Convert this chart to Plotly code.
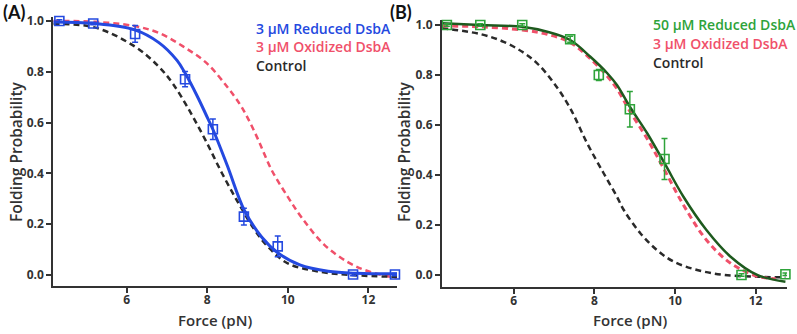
import plotly.graph_objects as go

# ---------------- data ----------------
# Panel A: 3 uM reduced DsbA (measured points)
a_force = [4.33, 5.17, 6.21, 7.45, 8.14, 8.91, 9.75, 11.62, 12.66]
a_prob = [1.0, 0.99, 0.949, 0.771, 0.574, 0.23, 0.113, 0.002, 0.002]
a_err = [0.005, 0.005, 0.033, 0.03, 0.04, 0.033, 0.041, 0.005, 0.005]

# Panel A fitted curves
a_blue_x = [4.18, 5.2, 6.2, 6.8, 7.25, 7.45, 7.75, 7.96, 8.15, 8.5, 8.92, 9.35, 9.75, 10.3, 11.0, 11.7, 12.71]
a_blue_y = [0.996, 0.99, 0.965, 0.915, 0.845, 0.795, 0.705, 0.635, 0.57, 0.43, 0.255, 0.15, 0.088, 0.04, 0.015, 0.007, 0.005]
a_red_x = [4.18, 5.2, 6.2, 6.8, 7.4, 7.98, 8.5, 8.8, 9.0, 9.27, 9.6, 10.0, 10.35, 10.9, 11.5, 12.0, 12.71]
a_red_y = [1.0, 0.997, 0.98, 0.953, 0.90, 0.835, 0.74, 0.675, 0.62, 0.531, 0.413, 0.308, 0.225, 0.12, 0.05, 0.015, -0.012]
a_black_x = [4.18, 5.2, 6.2, 6.8, 7.14, 7.55, 7.96, 8.37, 8.78, 9.18, 9.51, 10.0, 10.8, 11.6, 12.71]
a_black_y = [0.988, 0.975, 0.90, 0.82, 0.755, 0.65, 0.53, 0.40, 0.282, 0.177, 0.111, 0.046, 0.013, 0.0, -0.007]

# Panel B: 50 uM reduced DsbA (measured points)
b_force = [4.34, 5.17, 6.21, 7.40, 8.11, 8.88, 9.74, 11.65, 12.74]
b_prob = [1.0, 1.0, 1.0, 0.943, 0.80, 0.663, 0.464, 0.0, 0.003]
b_err = [0.005, 0.005, 0.005, 0.012, 0.022, 0.071, 0.082, 0.005, 0.005]

# Panel B fitted curves
b_green_x = [4.22, 5.17, 6.21, 6.83, 7.40, 7.90, 8.32, 8.56, 8.88, 9.31, 9.74, 10.21, 10.78, 11.38, 12.04, 12.74]
b_green_y = [1.007, 1.0, 0.993, 0.973, 0.94, 0.873, 0.807, 0.76, 0.673, 0.567, 0.447, 0.313, 0.18, 0.073, 0.0, -0.027]
b_red_x = [4.22, 5.17, 6.21, 6.83, 7.40, 7.90, 8.32, 8.56, 8.88, 9.31, 9.74, 10.21, 10.78, 11.38, 12.04, 12.5]
b_red_y = [0.996, 0.993, 0.98, 0.963, 0.93, 0.865, 0.795, 0.745, 0.655, 0.545, 0.42, 0.28, 0.14, 0.047, -0.005, -0.015]
b_black_x = [4.22, 5.17, 5.75, 6.21, 6.58, 7.0, 7.40, 7.82, 8.23, 8.56, 8.73, 9.14, 9.55, 9.97, 10.55, 11.21, 12.04, 12.74]
b_black_y = [0.987, 0.964, 0.933, 0.893, 0.847, 0.767, 0.667, 0.527, 0.407, 0.313, 0.26, 0.167, 0.10, 0.053, 0.02, 0.0, -0.007, -0.01]

x_tickvals = [6, 8, 10, 12]
y_tickvals = [0.0, 0.2, 0.4, 0.6, 0.8, 1.0]
y_ticktext = ["0.0", "0.2", "0.4", "0.6", "0.8", "1.0"]

legend_a = ["3 µM Reduced DsbA", "3 µM Oxidized DsbA", "Control"]
legend_b = ["50 µM Reduced DsbA", "3 µM Oxidized DsbA", "Control"]

# ---------------- style ----------------
BLUE = "#2449E0"
RED = "#F0506A"
BLACK = "#2a2a2a"
GREEN_PT = "#2EA33A"
GREEN_LN = "#1E5A1E"
AXIS = "#333333"
FONT = "Open Sans"
DASH = "6px,4px"

fig = go.Figure()

# Panel A curves
fig.add_trace(go.Scatter(x=a_red_x, y=a_red_y, mode="lines", line=dict(color=RED, width=2.5, dash=DASH, shape="spline"),
                         xaxis="x", yaxis="y", cliponaxis=False))
fig.add_trace(go.Scatter(x=a_black_x, y=a_black_y, mode="lines", line=dict(color=BLACK, width=2.5, dash=DASH, shape="spline"),
                         xaxis="x", yaxis="y", cliponaxis=False))
fig.add_trace(go.Scatter(x=a_blue_x, y=a_blue_y, mode="lines", line=dict(color=BLUE, width=3, shape="spline"),
                         xaxis="x", yaxis="y", cliponaxis=False))
fig.add_trace(go.Scatter(x=a_force, y=a_prob, mode="markers",
                         marker=dict(symbol="square-open", size=9, color=BLUE, line=dict(width=1.6, color=BLUE)),
                         error_y=dict(type="data", array=a_err, color=BLUE, thickness=1.5, width=3),
                         xaxis="x", yaxis="y", cliponaxis=False))

# Panel B curves
fig.add_trace(go.Scatter(x=b_black_x, y=b_black_y, mode="lines", line=dict(color=BLACK, width=2.5, dash=DASH, shape="spline"),
                         xaxis="x2", yaxis="y2", cliponaxis=False))
fig.add_trace(go.Scatter(x=b_red_x, y=b_red_y, mode="lines", line=dict(color=RED, width=3, dash=DASH, shape="spline"),
                         xaxis="x2", yaxis="y2", cliponaxis=False))
fig.add_trace(go.Scatter(x=b_green_x, y=b_green_y, mode="lines", line=dict(color=GREEN_LN, width=2.5, shape="spline"),
                         xaxis="x2", yaxis="y2", cliponaxis=False))
fig.add_trace(go.Scatter(x=b_force, y=b_prob, mode="markers",
                         marker=dict(symbol="square-open", size=9, color=GREEN_PT, line=dict(width=1.6, color=GREEN_PT)),
                         error_y=dict(type="data", array=b_err, color=GREEN_PT, thickness=1.5, width=3),
                         xaxis="x2", yaxis="y2", cliponaxis=False))

axis_common = dict(showgrid=False, zeroline=False, showline=True, linecolor=AXIS, linewidth=2,
                   ticks="outside", ticklen=5, tickwidth=2, tickcolor=AXIS, automargin=False,
                   tickfont=dict(family=FONT, size=12, color="#333333", weight="bold"))

fig.update_layout(
    width=797, height=334,
    margin=dict(l=0, r=0, t=0, b=0, autoexpand=False),
    paper_bgcolor="white", plot_bgcolor="white",
    showlegend=False,
    xaxis=dict(domain=[0.0669, 0.4981], range=[4.18, 12.71], tickvals=x_tickvals, anchor="y",
               ticklabelstandoff=-3, **axis_common),
    yaxis=dict(domain=[0.1437, 0.95], range=[-0.043, 1.017], tickvals=y_tickvals, ticktext=y_ticktext,
               anchor="x", **axis_common),
    xaxis2=dict(domain=[0.5546, 0.9875], range=[4.22, 12.78], tickvals=x_tickvals, anchor="y2",
                ticklabelstandoff=-3, **axis_common),
    yaxis2=dict(domain=[0.1416, 0.94], range=[-0.047, 1.02], tickvals=y_tickvals, ticktext=y_ticktext,
                anchor="x2", **axis_common),
)

ann = []
# legends (as text, left aligned)
for i, (t, c) in enumerate(zip(legend_a, [BLUE, RED, BLACK])):
    ann.append(dict(text=t, x=254 / 797, y=1 - (28 + i * 18.5) / 334, xref="paper", yref="paper",
                    xanchor="left", yanchor="middle", showarrow=False,
                    font=dict(family=FONT, size=14, color=c, weight=600)))
for i, (t, c) in enumerate(zip(legend_b, [GREEN_PT, RED, BLACK])):
    ann.append(dict(text=t, x=651 / 797, y=1 - (25 + i * 18.5) / 334, xref="paper", yref="paper",
                    xanchor="left", yanchor="middle", showarrow=False,
                    font=dict(family=FONT, size=14, color=c, weight=600)))
# panel labels
ann.append(dict(text="(A)", x=1 / 797, y=1 - 12 / 334, xref="paper", yref="paper", xanchor="left", yanchor="middle",
                showarrow=False, font=dict(family="Lato", size=18, color="#111111", weight="bold")))
ann.append(dict(text="(B)", x=388 / 797, y=1 - 12 / 334, xref="paper", yref="paper", xanchor="left", yanchor="middle",
                showarrow=False, font=dict(family="Lato", size=18, color="#111111", weight="bold")))
# axis titles
for xc in [16 / 797, 404 / 797]:
    ann.append(dict(text="Folding Probability", x=xc, y=1 - 152 / 334, xref="paper", yref="paper",
                    xanchor="center", yanchor="middle", textangle=-90, showarrow=False,
                    font=dict(family=FONT, size=15.5, color="#333333", weight=600)))
for xc in [215 / 797, 630 / 797]:
    ann.append(dict(text="Force (pN)", x=xc, y=1 - 320 / 334, xref="paper", yref="paper",
                    xanchor="center", yanchor="middle", showarrow=False,
                    font=dict(family=FONT, size=15, color="#333333", weight=600)))
fig.update_layout(annotations=ann)

fig.write_html("out.html", config={"displayModeBar": False},
               post_script="document.body.style.margin='0';document.body.style.padding='0';")
